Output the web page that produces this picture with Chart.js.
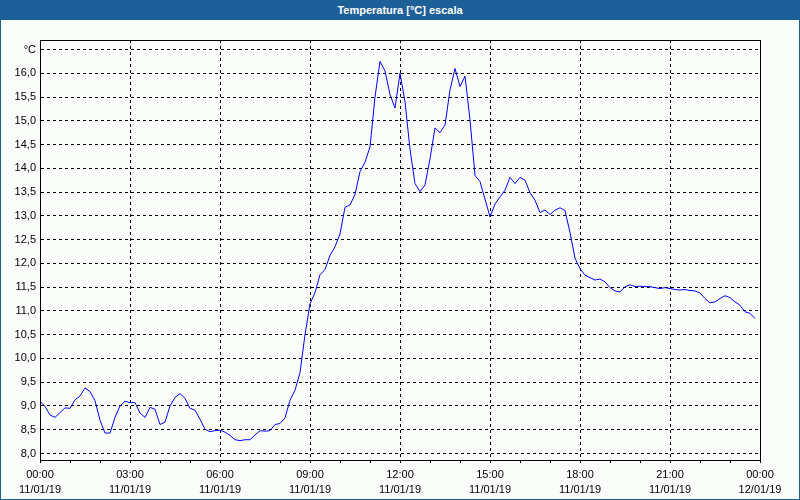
<!DOCTYPE html>
<html>
<head>
<meta charset="utf-8">
<script src="https://cdn.jsdelivr.net/npm/chart.js@4.4.1/dist/chart.umd.min.js"></script>
<style>
  html, body { margin: 0; padding: 0; background: #fbfdfb; }
  #wrap { position: relative; width: 800px; height: 500px; overflow: hidden; background: #fbfdfb; }
  #c { position: absolute; left: 0; top: 0; }
  #titlebar { position: absolute; left: 0; top: 0; width: 800px; height: 20px; background: #1d5f97;
    color: #fff; font: bold 11px "Liberation Sans", Arial, sans-serif; text-align: center; line-height: 20px; }
  #frame { position: absolute; left: 0; top: 0; width: 798px; height: 499px;
    border-left: 1px solid #1d5f97; border-right: 1px solid #1d5f97; border-bottom: 1px solid #1d5f97; pointer-events: none; }
</style>
</head>
<body>
<div id="wrap">
  <canvas id="c" width="800" height="500"></canvas>
  <div id="titlebar">Temperatura [°C] escala</div>
  <div id="frame"></div>
</div>
<script>
// ---- data (10-minute samples, 11/01/19 00:00 .. 23:50) ----
const sampleMinutes = 10;
const temperature = [
  9.10, 8.99, 8.81, 8.76, 8.86, 8.96, 8.95, 9.13, 9.21, 9.38, 9.30, 9.11,
  8.70, 8.43, 8.43, 8.76, 9.00, 9.10, 9.07, 9.07, 8.85, 8.76, 8.97, 8.93,
  8.61, 8.66, 9.00, 9.18, 9.26, 9.16, 8.95, 8.91, 8.72, 8.51, 8.46, 8.48,
  8.49, 8.45, 8.38, 8.29, 8.27, 8.29, 8.29, 8.39, 8.48, 8.47, 8.48, 8.61,
  8.63, 8.75, 9.12, 9.33, 9.70, 10.50, 11.15, 11.38, 11.76, 11.87, 12.17, 12.35,
  12.62, 13.18, 13.23, 13.45, 13.93, 14.13, 14.45, 15.50, 16.25, 16.05, 15.55, 15.27,
  16.00, 15.40, 14.40, 13.68, 13.51, 13.65, 14.20, 14.85, 14.75, 14.91, 15.65, 16.10,
  15.72, 15.94, 15.02, 13.85, 13.72, 13.35, 12.98, 13.25, 13.40, 13.54, 13.81, 13.68,
  13.81, 13.75, 13.49, 13.33, 13.07, 13.12, 13.03, 13.12, 13.17, 13.11, 12.65, 12.11,
  11.89, 11.75, 11.70, 11.65, 11.67, 11.61, 11.49, 11.42, 11.40, 11.51, 11.55, 11.51,
  11.52, 11.51, 11.51, 11.49, 11.47, 11.49, 11.47, 11.45, 11.44, 11.45, 11.43, 11.42,
  11.38, 11.26, 11.17, 11.19, 11.26, 11.32, 11.28, 11.19, 11.12, 10.98, 10.95, 10.84
];
const xTickTimes = ['00:00','03:00','06:00','09:00','12:00','15:00','18:00','21:00','00:00'];
const xTickDates = ['11/01/19','11/01/19','11/01/19','11/01/19','11/01/19','11/01/19','11/01/19','11/01/19','12/01/19'];
const yTickValues = [8.0, 8.5, 9.0, 9.5, 10.0, 10.5, 11.0, 11.5, 12.0, 12.5, 13.0, 13.5, 14.0, 14.5, 15.0, 15.5, 16.0, 16.5];
const yUnitLabel = '°C';

const points = temperature.map((v, i) => ({ x: i * sampleMinutes, y: v }));
const FONT = { family: '"Liberation Sans", Arial, sans-serif', size: 11 };

const frameBox = {
  id: 'frameBox',
  afterDraw(chart) {
    const a = chart.chartArea, ctx = chart.ctx;
    ctx.save();
    ctx.strokeStyle = '#000';
    ctx.lineWidth = 1;
    ctx.strokeRect(Math.round(a.left) + 0.5, Math.round(a.top) + 0.5,
      Math.round(a.right - a.left), Math.round(a.bottom - a.top));
    ctx.restore();
  }
};

new Chart(document.getElementById('c'), {
  type: 'line',
  data: {
    datasets: [{
      data: points,
      borderColor: '#0000ff',
      borderWidth: 1,
      pointRadius: 0,
      tension: 0,
      fill: false
    }]
  },
  options: {
    responsive: false,
    animation: false,
    events: [],
    layout: { padding: { top: 40, right: 40, left: 0, bottom: 0 } },
    plugins: { legend: { display: false }, tooltip: { enabled: false }, title: { display: false } },
    scales: {
      x: {
        type: 'linear',
        min: 0,
        max: 1440,
        afterBuildTicks: s => { s.ticks = Array.from({ length: 25 }, (_, h) => ({ value: h * 60 })); },
        afterFit: s => { s.height = 40; },
        ticks: {
          autoSkip: false,
          maxRotation: 0,
          minRotation: 0,
          padding: 4,
          color: '#000',
          font: { ...FONT, lineHeight: '15px' },
          callback: v => {
            const h = Math.round(v / 60);
            return h % 3 === 0 ? [xTickTimes[h / 3], xTickDates[h / 3]] : '';
          }
        },
        grid: {
          color: c => (c.tick && c.tick.value % 180 === 0) ? '#000' : 'rgba(0,0,0,0)',
          lineWidth: 1,
          drawTicks: true,
          tickLength: 3,
          tickColor: '#000',
          tickWidth: 1
        },
        border: { display: true, color: '#000', width: 1, dash: [3, 3] }
      },
      y: {
        type: 'linear',
        min: 7.863,
        max: 16.70,
        afterBuildTicks: s => { s.ticks = yTickValues.map(v => ({ value: v })); },
        afterFit: s => { s.width = 40; },
        ticks: {
          padding: 4,
          color: '#000',
          font: FONT,
          callback: v => Math.abs(v - 16.5) < 1e-6 ? yUnitLabel : v.toFixed(1).replace('.', ',')
        },
        grid: { color: '#000', lineWidth: 1, drawTicks: false },
        border: { display: true, color: '#000', width: 1, dash: [3, 3] }
      }
    }
  },
  plugins: [frameBox]
});
</script>
</body>
</html>
